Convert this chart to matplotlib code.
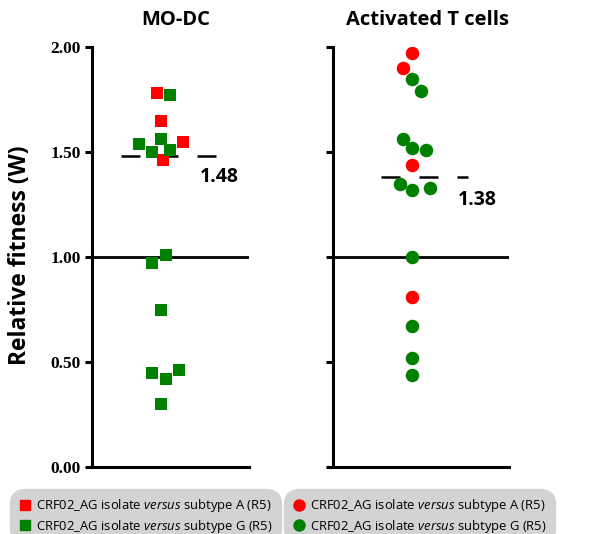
import matplotlib
matplotlib.use("Agg")
import matplotlib.pyplot as plt
from matplotlib.lines import Line2D

plt.rcParams['font.family'] = ['Open Sans', 'DejaVu Sans']
plt.rcParams['mathtext.fontset'] = 'custom'
plt.rcParams['mathtext.rm'] = 'Open Sans'
plt.rcParams['mathtext.it'] = 'Open Sans:italic'

# ---- data ----
panel_titles = ["MO-DC", "Activated T cells"]
series_labels = ["CRF02_AG isolate $\\it{versus}$ subtype A (R5)",
                 "CRF02_AG isolate $\\it{versus}$ subtype G (R5)"]
ytick_vals = [0.0, 0.5, 1.0, 1.5, 2.0]
ytick_labels = ["0.00", "0.50", "1.00", "1.50", "2.00"]

modc_A = [1.78, 1.65, 1.55, 1.46]
modc_A_x = [0.414, 0.44, 0.58, 0.452]
modc_G = [1.77, 1.54, 1.56, 1.50, 1.51, 1.01, 0.97, 0.75, 0.45, 0.42, 0.46, 0.30]
modc_G_x = [0.497, 0.30, 0.44, 0.382, 0.497, 0.471, 0.382, 0.44, 0.382, 0.471, 0.554, 0.44]
modc_mean = 1.48

tc_A = [1.97, 1.90, 1.44, 0.81]
tc_A_x = [0.449, 0.398, 0.449, 0.449]
tc_G = [1.85, 1.79, 1.56, 1.52, 1.51, 1.35, 1.32, 1.33, 1.00, 0.67, 0.52, 0.44]
tc_G_x = [0.449, 0.50, 0.398, 0.449, 0.528, 0.381, 0.449, 0.551, 0.449, 0.449, 0.449, 0.449]
tc_mean = 1.38

RED = '#ff0000'
GREEN = '#008000'

fig = plt.figure(figsize=(6.0, 5.34), dpi=100)
ax1 = fig.add_axes([92/600, 1-467/534, 157/600, 420/534])
ax2 = fig.add_axes([333/600, 1-467/534, 176/600, 420/534])

def style(ax, labels):
    ax.set_xlim(0, 1)
    ax.set_ylim(0, 2.0)
    for s in ['top', 'right']:
        ax.spines[s].set_visible(False)
    for s in ['left', 'bottom']:
        ax.spines[s].set_linewidth(2.2)
    ax.set_xticks([])
    ax.set_yticks(ytick_vals)
    if labels:
        ax.set_yticklabels(ytick_labels, family=['Liberation Serif'], fontweight='bold', fontsize=12.5)
    else:
        ax.set_yticklabels([])
    ax.tick_params(axis='y', length=5, width=2.2, direction='out', pad=3)
    ax.axhline(1.0, color='black', lw=2.0, zorder=1)
    ax.patch.set_visible(False)

style(ax1, True)
style(ax2, False)

ax1.scatter(modc_A_x, modc_A, marker='s', s=80, color=RED, zorder=3, linewidths=0)
ax1.scatter(modc_G_x, modc_G, marker='s', s=80, color=GREEN, zorder=3, linewidths=0)
ax2.scatter(tc_A_x, tc_A, marker='o', s=95, color=RED, zorder=3, linewidths=0)
ax2.scatter(tc_G_x, tc_G, marker='o', s=95, color=GREEN, zorder=3, linewidths=0)

ax1.plot([0.185, 0.796], [modc_mean, modc_mean], color='black', lw=1.8,
         dashes=(7.6, 7.6), zorder=2, solid_capstyle='butt', dash_capstyle='butt')
ax2.plot([0.273, 0.767], [tc_mean, tc_mean], color='black', lw=1.8,
         dashes=(7.6, 7.6), zorder=2, solid_capstyle='butt', dash_capstyle='butt')

ax1.text(0.69, modc_mean - 0.10, f"{modc_mean:.2f}", fontsize=14, fontweight='bold',
         ha='left', va='center')
ax2.text(0.71, tc_mean - 0.11, f"{tc_mean:.2f}", fontsize=14, fontweight='bold',
         ha='left', va='center')

fig.text(176/600, 1-20/534, panel_titles[0], fontsize=14.5, fontweight='bold', ha='center', va='center')
fig.text(427/600, 1-20/534, panel_titles[1], fontsize=14.5, fontweight='bold', ha='center', va='center')

fig.text(20/600, 1-255/534, "Relative fitness (W)", fontsize=16.5, fontweight='bold',
         rotation=90, ha='center', va='center')

def legend(ax, marker, x, ms):
    handles = [Line2D([], [], marker=marker, color=RED, ls='none', markersize=ms),
               Line2D([], [], marker=marker, color=GREEN, ls='none', markersize=ms)]
    leg = fig.legend(handles, series_labels, loc='lower left',
                     bbox_to_anchor=(x, -0.012), fontsize=9.4,
                     frameon=True, fancybox=True, facecolor='#d3d3d3', edgecolor='#d3d3d3',
                     framealpha=1, handletextpad=0.3, handlelength=1.0,
                     labelspacing=0.25, borderpad=0.45, borderaxespad=0)
    leg.get_frame().set_boxstyle('round', pad=0.2, rounding_size=1.2)
    return leg

legend(ax1, 's', 13/600, 7.5)
legend(ax2, 'o', 287/600, 8)

fig.savefig("out.png", dpi=100)
